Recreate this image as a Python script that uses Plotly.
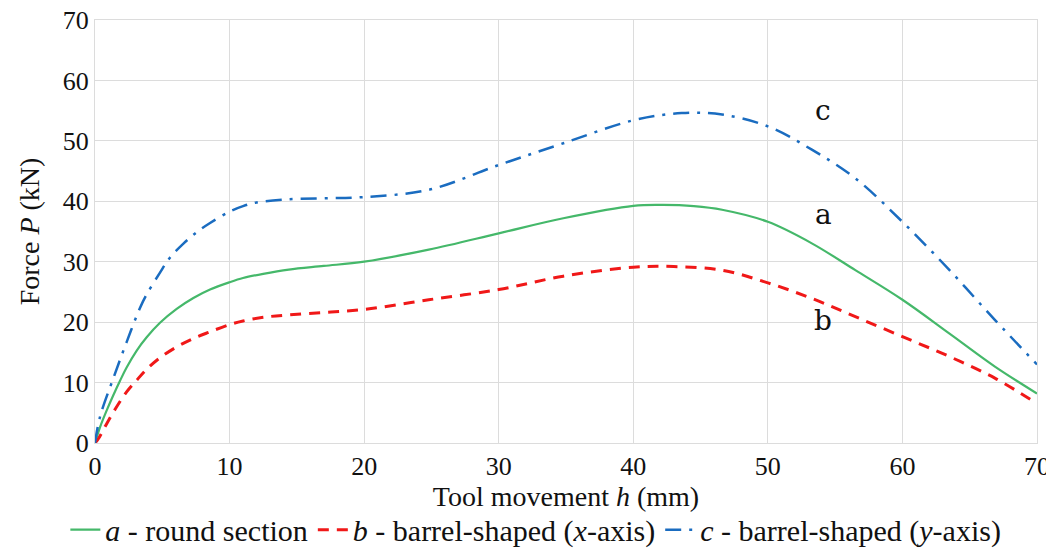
import plotly.graph_objects as go

# Tool movement h (mm) and force P (kN)
a_x = [0, 0.37, 0.87, 1.36, 1.86, 2.35, 3.1, 3.84, 4.83, 6.07, 7.31, 8.55, 10, 11, 12.5, 14.4, 17, 20, 24.8, 30, 34.8, 40, 42.2, 44.5, 46.6, 50, 53.3, 56.5, 60, 63.5, 66.9, 70]
a_y = [0, 2.6, 5.4, 7.9, 10.3, 12.5, 15.3, 17.5, 19.9, 22.2, 24.0, 25.4, 26.6, 27.3, 28.0, 28.7, 29.3, 30.0, 32.0, 34.7, 37.2, 39.25, 39.4, 39.2, 38.6, 36.6, 33.0, 28.6, 23.7, 18.1, 12.6, 8.2]

b_x = [0, 0.25, 0.87, 1.61, 2.35, 3.1, 3.84, 4.83, 6.07, 7.31, 8.55, 10, 11, 12.5, 14.4, 17, 20, 24.8, 30, 34.8, 40, 43, 46.6, 50, 53.3, 56.5, 60, 63.5, 66.9, 70]
b_y = [0, 0.7, 3.2, 6.0, 8.45, 10.4, 12.2, 14.1, 15.9, 17.3, 18.4, 19.6, 20.2, 20.8, 21.2, 21.6, 22.1, 23.7, 25.4, 27.6, 29.1, 29.2, 28.6, 26.5, 23.9, 20.9, 17.6, 14.3, 10.7, 6.5]

c_x = [0, 0.37, 1.36, 2.35, 3.35, 3.84, 4.83, 5.58, 6.57, 7.56, 8.55, 10, 11, 12, 14.2, 17, 20, 24.8, 30, 34.8, 40, 43.6, 46.6, 50, 53.3, 56.5, 60, 63.5, 66.9, 70]
c_y = [0, 4.3, 10.7, 16.7, 22.4, 24.6, 28.2, 30.7, 33.0, 34.9, 36.4, 38.3, 39.2, 39.8, 40.3, 40.5, 40.7, 41.9, 46.0, 49.6, 53.4, 54.6, 54.35, 52.4, 48.5, 43.8, 36.6, 28.6, 20.3, 13.0]

series_names = ["<i>a</i> - round section",
                "<i>b</i> - barrel-shaped (<i>x</i>-axis)",
                "<i>c</i> - barrel-shaped (<i>y</i>-axis)"]
label_text = ["c", "a", "b"]
label_x = [54.1, 54.1, 54.1]
label_y = [55.0, 37.8, 20.3]

tick_vals = [0, 10, 20, 30, 40, 50, 60, 70]

FONT = "Liberation Serif"

fig = go.Figure()
fig.add_trace(go.Scatter(x=a_x, y=a_y, mode="lines", name=series_names[0],
                         line=dict(color="#45b86a", width=2.2, shape="spline", smoothing=1.0)))
fig.add_trace(go.Scatter(x=b_x, y=b_y, mode="lines", name=series_names[1],
                         line=dict(color="#f01818", width=3, dash="11px,8px", shape="spline", smoothing=1.0)))
fig.add_trace(go.Scatter(x=c_x, y=c_y, mode="lines", name=series_names[2],
                         line=dict(color="#1a6cc0", width=2.5, dash="16px,8px,3px,8px", shape="spline", smoothing=1.0)))

for t, x, y in zip(label_text, label_x, label_y):
    fig.add_annotation(x=x, y=y, text=t, showarrow=False,
                       font=dict(family="DejaVu Serif", size=28, color="#111"))

axis_common = dict(
    range=[0, 70], tickvals=tick_vals, showgrid=True, gridcolor="#dcdcdc", gridwidth=1,
    zeroline=False, showline=True, linecolor="#dcdcdc", linewidth=1, mirror=True,
    ticks="", tickfont=dict(family=FONT, size=26, color="#111"), automargin=False,
    ticklabeloverflow="allow",
)

# the page body adds an 8px offset, so the figure is 1046x542
fig.update_layout(
    width=1046, height=542,
    margin=dict(l=87, r=17, t=12, b=107, autoexpand=False),
    paper_bgcolor="white", plot_bgcolor="white",
    font=dict(family=FONT, color="#111"),
    xaxis=dict(**axis_common,
               title=dict(text="Tool movement <i>h</i> (mm)", font=dict(family=FONT, size=28), standoff=4)),
    yaxis=dict(**axis_common, ticklabelstandoff=0,
               title=dict(text="Force <i>P</i> (kN)", font=dict(family=FONT, size=28), standoff=14)),
    legend=dict(orientation="h", x=0.468, xanchor="center", y=-0.205, yanchor="middle",
                font=dict(family=FONT, size=30, color="#111"), itemwidth=30,
                tracegroupgap=0, bgcolor="rgba(0,0,0,0)"),
    showlegend=True,
)

fig.write_html("out.html")
